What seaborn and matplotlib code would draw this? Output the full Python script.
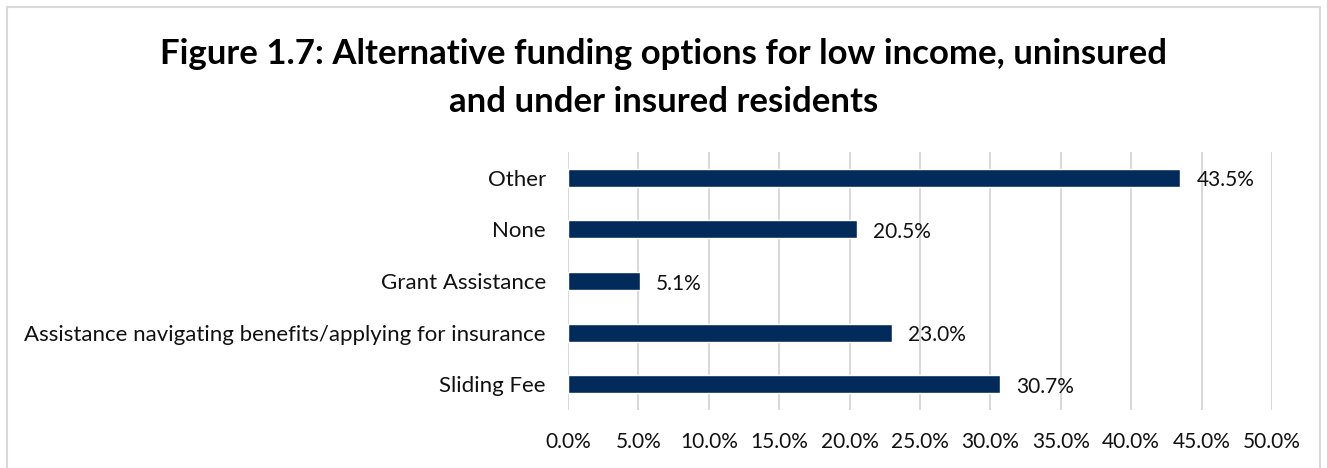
import matplotlib
matplotlib.use("Agg")
import matplotlib.pyplot as plt
import seaborn as sns
import pandas as pd
from matplotlib.patches import Rectangle

categories = ["Other", "None", "Grant Assistance",
              "Assistance navigating benefits/applying for insurance", "Sliding Fee"]
values = [43.5, 20.5, 5.1, 23.0, 30.7]
xticks = [0, 5, 10, 15, 20, 25, 30, 35, 40, 45, 50]
title = "Figure 1.7: Alternative funding options for low income, uninsured\nand under insured residents"

df = pd.DataFrame({"category": categories, "value": values})

sns.set_theme(style="white")
plt.rcParams["font.family"] = ["Lato", "DejaVu Sans"]

fig = plt.figure(figsize=(13.27, 4.68), dpi=100)
ax = fig.add_axes([568 / 1327, 1 - 410 / 468, (1272 - 568) / 1327, (410 - 152) / 468])

bar_color = "#022b5c"
sns.barplot(data=df, y="category", x="value", orient="h", color=bar_color,
            width=0.35, saturation=1, ax=ax, order=categories)

ax.set_xlim(0, 50)
ax.set_ylim(len(categories) - 0.5, -0.5)
ax.set_xticks(xticks)
ax.set_xticklabels([f"{t:.1f}%" for t in xticks])
ax.set_xlabel("")
ax.set_ylabel("")
ax.grid(axis="x", color="#d9d9d9", linewidth=1.5)
ax.set_axisbelow(True)
for s in ax.spines.values():
    s.set_visible(False)
ax.tick_params(axis="both", length=0, colors="#111111")
ax.tick_params(axis="x", pad=16, labelsize=15)
ax.tick_params(axis="y", pad=16, labelsize=16)

for i, v in enumerate(values):
    ax.text(v + 1.15, i + 0.05, f"{v:.1f}%", va="center", ha="left",
            fontsize=15, color="#111111")

fig.text(0.5, 1 - 78 / 468, title, ha="center", va="center",
         fontsize=25, fontweight="bold", color="#000000", linespacing=1.65)

fig.patches.append(Rectangle((7 / 1327, -0.1), 1313 / 1327, 1.1 - 7 / 468,
                             transform=fig.transFigure, fill=False,
                             edgecolor="#d9d9d9", linewidth=1.5))

fig.savefig("out.png", dpi=100, facecolor="white")
